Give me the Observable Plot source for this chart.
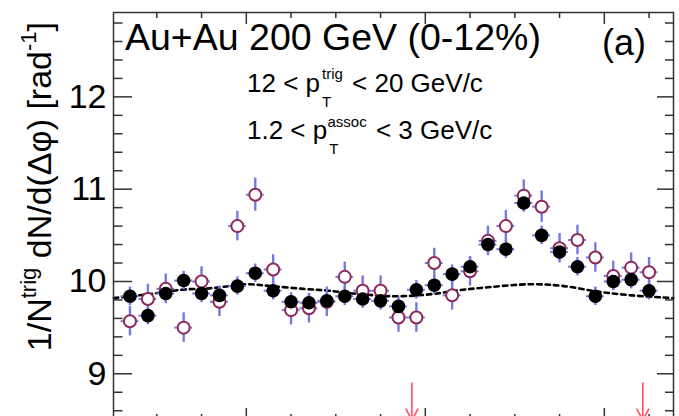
<!DOCTYPE html>
<html><head><meta charset="utf-8">
<script src="https://cdn.jsdelivr.net/npm/d3@7"></script>
<script src="https://cdn.jsdelivr.net/npm/@observablehq/plot@0.6"></script>
<style>html,body{margin:0;padding:0;overflow:hidden;background:#fff}#chart svg{display:block}</style>
</head><body><div id="chart"></div>
<script>
// Δφ bin centres (rad)
const dphi = [-1.3,-1.1,-0.9,-0.7,-0.5,-0.3,-0.1,0.1,0.3,0.5,0.7,0.9,1.1,1.3,1.5,1.7,1.9,2.1,2.3,2.5,2.7,2.9,3.1,3.3,3.5,3.7,3.9,4.1,4.3,4.5];
// filled black markers
const filledY = [9.84,9.63,9.87,10.01,9.87,9.85,9.95,10.09,9.90,9.78,9.77,9.79,9.84,9.81,9.79,9.73,9.91,9.96,10.08,10.16,10.40,10.35,10.85,10.50,10.32,10.16,9.84,10.00,10.02,9.90];
const filledErr = [0.1,0.1,0.1,0.1,0.1,0.1,0.1,0.1,0.1,0.1,0.1,0.1,0.1,0.1,0.1,0.1,0.1,0.1,0.1,0.1,0.1,0.1,0.1,0.1,0.1,0.1,0.1,0.1,0.1,0.1];
// open markers
const openY = [9.57,9.81,9.92,9.50,10.00,9.78,10.60,10.94,10.13,9.69,9.71,9.78,10.05,9.90,9.90,9.61,9.61,10.20,9.85,10.11,10.44,10.60,10.93,10.81,10.36,10.45,10.26,10.06,10.15,10.10];
const openErr = [0.16,0.16,0.16,0.16,0.16,0.16,0.16,0.18,0.16,0.16,0.16,0.16,0.16,0.16,0.16,0.16,0.16,0.16,0.16,0.16,0.16,0.17,0.17,0.17,0.16,0.16,0.16,0.16,0.16,0.16];
// dotted background curve
const curveX = [-1.48,-1.11,-0.73,-0.36,0.0,0.27,0.64,0.92,1.30,1.67,2.04,2.42,2.62,3.18,3.55,3.93,4.30,4.77];
const curveY = [9.82,9.86,9.91,9.93,9.97,9.95,9.92,9.90,9.86,9.84,9.86,9.91,9.93,9.97,9.95,9.89,9.85,9.82];
// red arrows
const arrowX = [1.85, 4.43];
// ticks
const yTicks = [9,10,11,12];
const yMinor = [8.6,8.8,9.2,9.4,9.6,9.8,10.2,10.4,10.6,10.8,11.2,11.4,11.6,11.8,12.2,12.4,12.6,12.8];
const xMajor = [0,2,4];
const xMinor = [-1,-0.5,0.5,1,1.5,2.5,3,3.5,4.5];

const xDom = [-1.484, 4.773];
const yDom = [8.494, 12.914];
const FONT = "'Liberation Sans', Arial, Helvetica, sans-serif";
const BLUE = "#767ae0";
const RING = "#8e2a5a";
const AX = "#333";

const pts = dphi.map((x,i)=>({x, f:filledY[i], fe:filledErr[i], o:openY[i], oe:openErr[i]}));
const curve = curveX.map((x,i)=>({x, y:curveY[i]}));

const chart = Plot.plot({
  width: 679, height: 421,
  marginLeft: 113, marginRight: 6, marginTop: 12, marginBottom: 1,
  style: {fontFamily: FONT, background: "#fff", color: "#000"},
  x: {domain: xDom, axis: null},
  y: {domain: yDom, axis: null},
  marks: [
    Plot.line(curve, {x:"x", y:"y", curve:"catmull-rom", stroke:"#000", strokeWidth:2.6, strokeDasharray:"4.5,4"}),
    // error bars
    Plot.ruleX(pts, {x:"x", y1:d=>d.o-d.oe, y2:d=>d.o+d.oe, stroke:BLUE, strokeWidth:2.4}),
    Plot.ruleY(pts, {y:"o", x1:d=>d.x-0.1, x2:d=>d.x+0.1, stroke:BLUE, strokeWidth:2}),
    Plot.ruleX(pts, {x:"x", y1:d=>d.f-d.fe, y2:d=>d.f+d.fe, stroke:BLUE, strokeWidth:2.4}),
    Plot.ruleY(pts, {y:"f", x1:d=>d.x-0.1, x2:d=>d.x+0.1, stroke:BLUE, strokeWidth:2}),
    Plot.dot(pts, {x:"x", y:"o", r:6, stroke:RING, strokeWidth:2, fill:"#fff"}),
    Plot.dot(pts, {x:"x", y:"f", r:6.8, fill:"#000", stroke:"none"}),
    Plot.arrow(arrowX, {x1:d=>d, x2:d=>d, y1:8.90, y2:8.50, stroke:"#ff5060", strokeWidth:1.6, headLength:18, headAngle:58}),
    // frame & ticks
    Plot.frame({stroke:AX, strokeWidth:1.5}),
    Plot.ruleY(yTicks, {y:d=>d, x1:xDom[0], x2:xDom[0], insetRight:-19, stroke:AX, strokeWidth:1.5}),
    Plot.ruleY(yMinor, {y:d=>d, x1:xDom[0], x2:xDom[0], insetRight:-9.5, stroke:AX, strokeWidth:1.5}),
    Plot.ruleY(yTicks, {y:d=>d, x1:xDom[1], x2:xDom[1], insetLeft:-16, stroke:AX, strokeWidth:1.5}),
    Plot.ruleY(yMinor, {y:d=>d, x1:xDom[1], x2:xDom[1], insetLeft:-8, stroke:AX, strokeWidth:1.5}),
    Plot.ruleX(xMajor, {x:d=>d, y1:yDom[1], y2:yDom[1], insetBottom:-12, stroke:AX, strokeWidth:1.5}),
    Plot.ruleX(xMinor, {x:d=>d, y1:yDom[1], y2:yDom[1], insetBottom:-6, stroke:AX, strokeWidth:1.5}),
    Plot.ruleX(xMajor, {x:d=>d, y1:yDom[0], y2:yDom[0], insetTop:-12, stroke:AX, strokeWidth:1.5}),
    Plot.ruleX(xMinor, {x:d=>d, y1:yDom[0], y2:yDom[0], insetTop:-6, stroke:AX, strokeWidth:1.5}),
    Plot.axisY(yTicks, {anchor:"left", tickSize:0, tickPadding:7, fontSize:34, label:null, tickFormat:d=>String(d)})
  ]
});
document.getElementById("chart").appendChild(chart);

const svg = d3.select(chart);
const g = svg.append("g").attr("font-family", FONT).attr("fill", "#000").attr("text-anchor", "start");
g.append("text").attr("x",125).attr("y",50).attr("font-size",37.5).text("Au+Au 200 GeV (0-12%)");
g.append("text").attr("x",602).attr("y",55).attr("font-size",36).text("(a)");

const t1 = g.append("text").attr("x",247).attr("y",92).attr("font-size",26);
t1.append("tspan").text("12 < p");
t1.append("tspan").attr("font-size",15).attr("dx",2).attr("dy",15).text("T");
t1.append("tspan").attr("font-size",15).attr("dx",-9.2).attr("dy",-28).text("trig");
t1.append("tspan").attr("dx",2).attr("dy",13).text(" < 20 GeV/c");

const t2 = g.append("text").attr("x",247).attr("y",139).attr("font-size",26);
t2.append("tspan").text("1.2 < p");
t2.append("tspan").attr("font-size",15).attr("dx",2).attr("dy",15).text("T");
t2.append("tspan").attr("font-size",15).attr("dx",-9.2).attr("dy",-27).text("assoc");
t2.append("tspan").attr("dx",2).attr("dy",12).text(" < 3 GeV/c");

const yt = g.append("text").attr("transform","translate(51,22) rotate(-90)").attr("text-anchor","end").attr("font-size",34);
yt.append("tspan").text("1/N");
yt.append("tspan").attr("font-size",22).attr("dy",-15).text("trig");
yt.append("tspan").attr("dy",15).text(" dN/d(\u0394\u03c6) [rad");
yt.append("tspan").attr("font-size",22).attr("dy",-15).text("-1");
yt.append("tspan").attr("dy",15).text("]");
</script>
</body></html>
